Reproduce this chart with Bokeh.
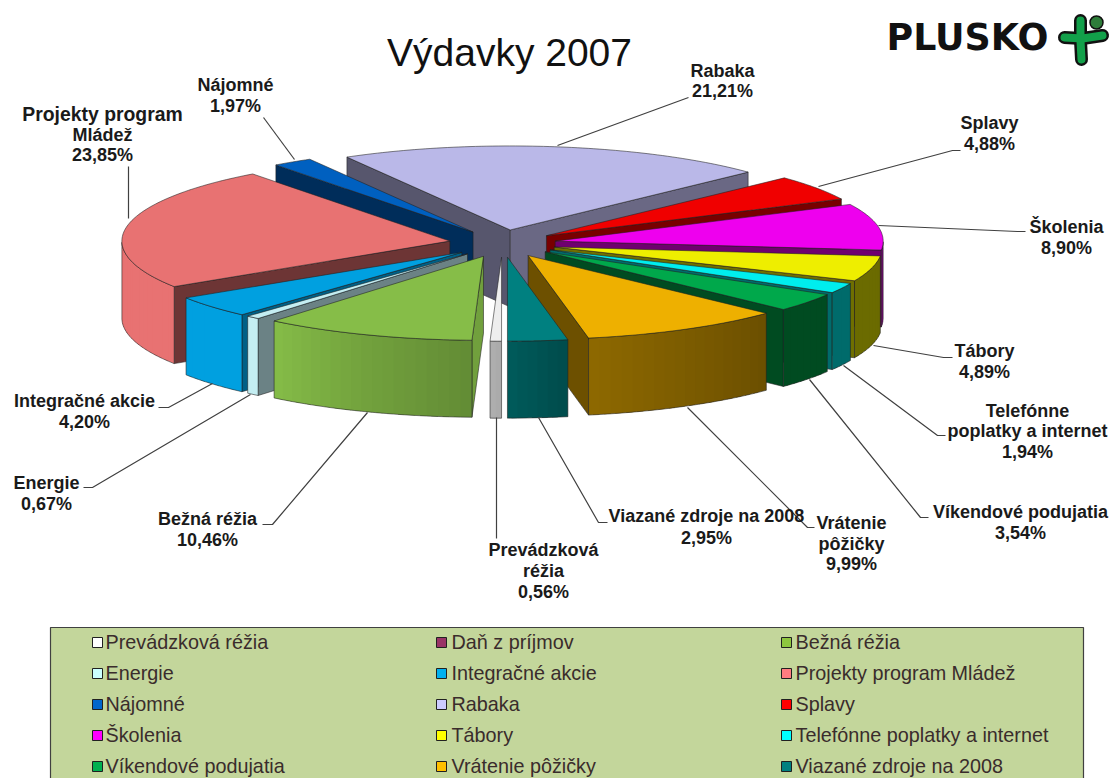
import numpy as np
from bokeh.plotting import figure
from bokeh.models import Range1d, ColumnDataSource
from bokeh.core.properties import value
from bokeh.embed import file_html
from bokeh.resources import INLINE

# ---------- data ----------
categories = ["Prevádzková réžia", "Daň z príjmov", "Bežná réžia", "Energie", "Integračné akcie",
              "Projekty program Mládež", "Nájomné", "Rabaka", "Splavy", "Školenia", "Tábory",
              "Telefónne poplatky a internet", "Víkendové podujatia", "Vrátenie pôžičky",
              "Viazané zdroje na 2008"]
values = [0.56, 0.0, 10.46, 0.67, 4.20, 23.85, 1.97, 21.21, 4.88, 8.90, 4.89, 1.94, 3.54, 9.99, 2.95]

# ---------- style ----------
top_colors = ["#eeeeee", "#993366", "#86bd48", "#c4eef2", "#00a0e0", "#e87272", "#0060c0", "#bab8e8",
              "#f00000", "#ee00ee", "#eeee00", "#00eeee", "#00a84b", "#eeb000", "#008080"]
legend_colors = ["#ffffff", "#993366", "#8dc63f", "#ccffff", "#00b0f0", "#ff7c80", "#0066cc", "#ccccff",
                 "#ff0000", "#ff00ff", "#ffff00", "#00ffff", "#00b050", "#ffc000", "#008080"]
side_factor = [(.5, .5), (.5, .5), (.85, .5), (.55, .5), (.6, .5), (.47, .47), (.47, .47), (.47, .57),
               (.5, .5), (.47, .47), (.47, .47), (.45, .45), (.45, .45), (.46, .46), (.6, .6)]

CX, CY = 502.0, 243.0      # pie centre, picture pixels
RX, RY = 328.0, 84.0       # ellipse radii
H = 77.0                   # extrusion
EXPLODE = 0.163
EDGE = "#202020"


def shade(hex_col, f):
    r, g, b = (int(hex_col[i:i + 2], 16) for i in (1, 3, 5))
    return "#%02x%02x%02x" % (int(r * f), int(g * f), int(b * f))


def rim(theta):
    t = np.radians(theta)
    return -RX * np.sin(t), RY * np.cos(t)


def light(theta):
    th = ((np.asarray(theta) + 180) % 360) - 180
    return np.interp(th, [-70, -47, -10, 2, 20, 40, 60, 90], [.45, .45, .6, .74, .85, 1, 1, 1])


W, HGT = 1112, 778
p = figure(width=W, height=HGT, x_range=Range1d(0, W), y_range=Range1d(HGT, 0),
           x_axis_location=None, y_axis_location=None, toolbar_location=None,
           output_backend="svg", min_border=0, outline_line_color=None,
           background_fill_color="white", border_fill_color="white")
p.grid.visible = False

# ---------- pie ----------
cum = np.concatenate([[0], np.cumsum(values)])
angles = cum / cum[-1] * 360.0
slices = []
for i, v in enumerate(values):
    if v <= 0:
        continue
    a, b = angles[i], angles[i + 1]
    mid = (a + b) / 2
    mx, my = rim(mid)
    slices.append((np.cos(np.radians(mid)), i, a, b, CX + EXPLODE * mx, CY + EXPLODE * my))
slices.sort()

for _, i, a, b, tx, ty in slices:
    col = top_colors[i]
    mx, my = rim((a + b) / 2)
    # radial walls
    for ang, fac in ((a, side_factor[i][0]), (b, side_factor[i][1])):
        ex, ey = rim(ang)
        if abs(ex) < 1e-6:
            continue
        if (ex * my - ey * mx) * np.sign(ex) < 0:
            p.patch([tx, tx + ex, tx + ex, tx], [ty, ty + ey, ty + ey + H, ty + H],
                    fill_color=shade(col, fac), line_color=EDGE, line_width=0.7, line_alpha=0.8)
    # outer wall: only the part facing the viewer
    th = np.linspace(a, b, max(3, int((b - a) / 2.0) + 2))
    facing = np.cos(np.radians(th)) > -1e-9
    if facing.sum() >= 2:
        th = th[facing]
        xs, ys, cs = [], [], []
        step = th[1] - th[0]
        for t0, t1 in zip(th[:-1], th[1:]):
            t2 = min(t1 + 0.6 * step, th[-1])  # overlap the next strip to hide seams
            x0, y0 = rim(t0)
            x1, y1 = rim(t2)
            xs.append([tx + x0, tx + x1, tx + x1, tx + x0])
            ys.append([ty + y0, ty + y1, ty + y1 + H, ty + y0 + H])
            cs.append(shade(col, float(light((t0 + t1) / 2))))
        p.patches(xs="xs", ys="ys", fill_color="cs", line_color=None,
                  source=ColumnDataSource(dict(xs=xs, ys=ys, cs=cs)))
        rx, ry = rim(th)
        p.line(np.r_[tx + rx, (tx + rx)[::-1], tx + rx[0]],
               np.r_[ty + ry, (ty + ry + H)[::-1], ty + ry[0]],
               line_color=EDGE, line_width=0.7, line_alpha=0.8)
    # top face
    th = np.linspace(a, b, max(3, int(b - a) + 2))
    rx, ry = rim(th)
    p.patch(np.r_[tx, tx + rx], np.r_[ty, ty + ry], fill_color=col,
            line_color=EDGE, line_width=0.7, line_alpha=0.8)

# ---------- leader lines ----------
leaders = [
    ([688, 557], [97, 145]),
    ([960, 952, 818], [150, 150, 186]),
    ([1025, 1017, 878], [231, 231, 225]),
    ([952, 943, 873], [357, 357, 345]),
    ([945, 937, 843], [435, 435, 365]),
    ([928, 920, 809], [517, 517, 379]),
    ([814, 807, 687], [527, 527, 407]),
    ([607, 598, 538], [522, 522, 417]),
    ([496, 496], [538, 417]),
    ([262, 272, 367], [524, 524, 412]),
    ([83, 92, 250], [487, 487, 394]),
    ([158, 168, 212], [407, 407, 383]),
    ([128, 128], [166, 218]),
    ([263, 294], [117, 159]),
]
for lx, ly in leaders:
    p.line(lx, ly, line_color="#404040", line_width=1.2)

# ---------- data labels ----------
pct = [f"{v:.2f}".replace(".", ",") + "%" for v in values]
label_rows = [
    (543, [549, 570, 591], ["Prevádzková", "réžia", pct[0]]),
    (207, [518, 539], [categories[2], pct[2]]),
    (46, [482, 503], [categories[3], pct[3]]),
    (84, [400, 421], [categories[4], pct[4]]),
    (102, [113, 134, 154], ["Projekty program", "Mládež", pct[5]]),
    (235, [84, 105], [categories[6], pct[6]]),
    (722, [70, 90], [categories[7], pct[7]]),
    (989, [122, 143], [categories[8], pct[8]]),
    (1066, [226, 247], [categories[9], pct[9]]),
    (984, [350, 371], [categories[10], pct[10]]),
    (1027, [410, 430, 451], ["Telefónne", "poplatky a internet", pct[11]]),
    (1020, [511, 532], [categories[12], pct[12]]),
    (851, [522, 543, 563], ["Vrátenie", "pôžičky", pct[13]]),
    (706, [515, 537], [categories[14], pct[14]]),
]
lx, ly, lt, ls = [], [], [], []
for x, ys, ts in label_rows:
    for y, t in zip(ys, ts):
        lx.append(x); ly.append(y); lt.append(t)
        ls.append("19.4px" if t == "Projekty program" else "18px")
p.text("x", "y", text="t", text_font=value("Liberation Sans"), text_font_style="bold",
       text_font_size="s", text_align="center", text_baseline="middle", text_color="#1a1a1a",
       source=ColumnDataSource(dict(x=lx, y=ly, t=lt, s=ls)))

# ---------- title ----------
p.text([509], [52], text=["Výdavky 2007"], text_font=value("Liberation Sans"), text_font_size="39px",
       text_align="center", text_baseline="middle", text_color="#111111")

# ---------- logo ----------
p.text([886], [37], text=["PLUSKO"], text_font=value("DejaVu Sans"), text_font_style="bold",
       text_font_size="36.4px", text_align="left", text_baseline="middle", text_color="#111111")
stem_x, stem_y = [1080, 1080, 1081], [20, 40, 59]
arm_x, arm_y = [1064, 1082, 1102], [37, 38, 35]
for xx, yy in ((stem_x, stem_y), (arm_x, arm_y)):
    p.line(xx, yy, line_color="#111111", line_width=13, line_cap="round", line_join="round")
for xx, yy in ((stem_x, stem_y), (arm_x, arm_y)):
    p.line(xx, yy, line_color="#12a04a", line_width=8, line_cap="round", line_join="round")
p.scatter([1096], [22], size=13, fill_color="#2e7d3a", line_color="#111111", line_width=1.5)

# ---------- legend ----------
p.quad(left=[50], right=[1083], top=[627], bottom=[790], fill_color="#c3d69b",
       line_color="#404040", line_width=1.2)
col_x = [97, 441, 786]
text_x = [105, 451, 795]
row_y = [642, 673, 704, 735, 766]
for i, (name, c) in enumerate(zip(categories, legend_colors)):
    cx, ry_ = col_x[i % 3], row_y[i // 3]
    p.scatter([cx], [ry_], marker="square", size=10, fill_color=c, line_color="#202020", line_width=1)
    p.text([text_x[i % 3]], [ry_ - 1], text=[name], text_font=value("Liberation Sans"),
           text_font_size="19.8px", text_align="left", text_baseline="middle", text_color="#3a2c2c")

open("out.html", "w").write(file_html(p, INLINE))
